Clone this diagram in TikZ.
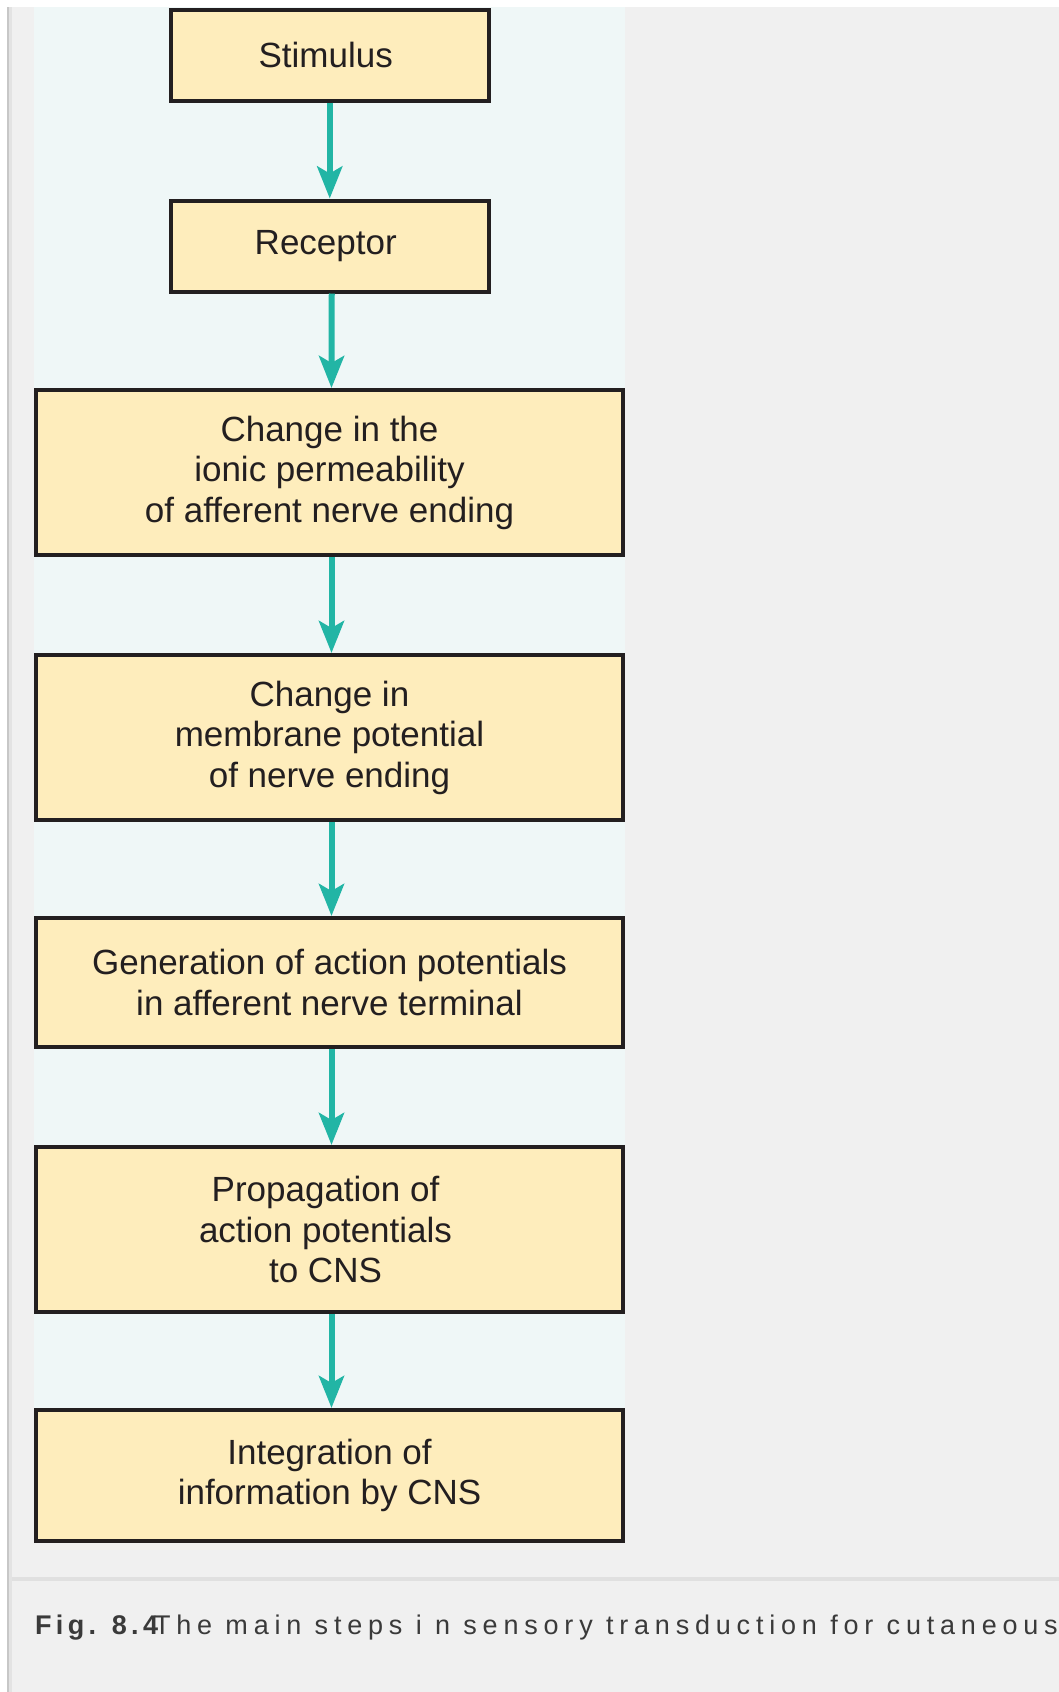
\documentclass[tikz,border=0pt]{standalone}
\usepackage{fontspec}
\setmainfont{Liberation Sans}
\newfontfamily\capboldfont[LetterSpace=16]{Liberation Sans Bold}
\newfontfamily\capfont[LetterSpace=21.5]{Liberation Sans}
\usetikzlibrary{arrows.meta}
\definecolor{boxfill}{HTML}{FEEDBC}
\definecolor{boxline}{HTML}{231F20}
\definecolor{panel}{HTML}{EFF7F7}
\definecolor{bggray}{HTML}{F0F0F0}
\definecolor{teal}{HTML}{22B5A5}
\definecolor{capgray}{HTML}{3A3A3A}
\newcommand{\lft}{\hspace*{-8pt}}
\tikzset{
  stepbox/.style={draw=boxline, fill=boxfill, line width=4pt, rectangle,
    align=center, inner sep=0pt, text=boxline,
    font=\fontsize{35}{40.5}\selectfont},
  smallbox/.style={stepbox, minimum width=318.5pt, minimum height=91pt},
  widebox/.style={stepbox, minimum width=587pt},
  flow/.style={draw=teal, line width=6pt,
    -{Stealth[length=32pt,width=25pt,inset=7pt]}}
}
\begin{document}
\begin{tikzpicture}[x=1pt,y=-1pt]
\clip (0,0) rectangle (1059,1692);
\useasboundingbox (0,0) rectangle (1059,1692);
% background
\fill[bggray] (0,0) rectangle (1059,1692);
\fill[white] (0,0) rectangle (1059,7);
\fill[white] (0,0) rectangle (7,1692);
\fill[black!22] (7,7) rectangle (9,1692);
\fill[black!11] (9,7) rectangle (12,1692);
\fill[panel] (34,7) rectangle (625,1543);
\fill[black!12] (12,1577) rectangle (1059,1581);
% boxes
\node[smallbox] (stim) at (329.75,55) {\lft Stimulus};
\node[smallbox] (rec) at (329.75,246) {\lft Receptor};
\node[widebox, minimum height=165pt] (perm) at (329.5,472.5)
  {Change in the\\ionic permeability\\of afferent nerve ending};
\node[widebox, minimum height=165pt] (memb) at (329.5,737.5)
  {Change in\\membrane potential\\of nerve ending};
\node[widebox, minimum height=129pt] (gen) at (329.5,982.5)
  {Generation of action potentials\\in afferent nerve terminal};
\node[widebox, minimum height=165pt] (prop) at (329.5,1229.5)
  {\lft Propagation of\\\lft action potentials\\\lft to CNS};
\node[widebox, minimum height=131pt] (integ) at (329.5,1475.5)
  {Integration of\\information by CNS};
% connectors
\draw[flow] (stim) -- (rec);
\draw[flow] ([xshift=2pt]rec.south) -- ([xshift=2pt]perm.north);
\draw[flow] ([xshift=2pt]perm.south) -- ([xshift=2pt]memb.north);
\draw[flow] ([xshift=2pt]memb.south) -- ([xshift=2pt]gen.north);
\draw[flow] ([xshift=2pt]gen.south) -- ([xshift=2pt]prop.north);
\draw[flow] ([xshift=2pt]prop.south) -- ([xshift=2pt]integ.north);
% caption
\node[anchor=base west, inner sep=0pt, text=capgray,
  font=\fontsize{27}{32}\selectfont] (cap) at (35,1634)
  {{\capboldfont Fig. 8.4}\hspace{-4pt}{\capfont The main steps i n sensory transduction for cutaneous}};
\end{tikzpicture}
\end{document}
